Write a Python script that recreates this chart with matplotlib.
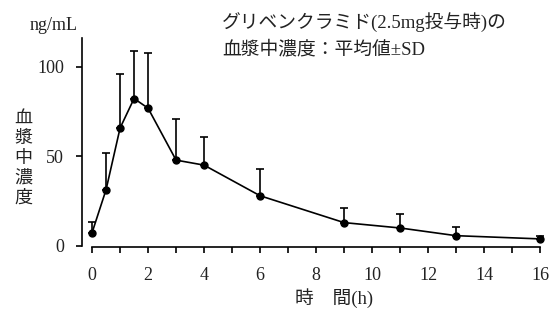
import matplotlib.pyplot as plt
import numpy as np

plt.rcParams['font.family'] = ['Liberation Serif', 'Noto Sans CJK JP']

# 時間(h) / 平均値 / SD
hours = [0, 0.5, 1, 1.5, 2, 3, 4, 6, 9, 11, 13, 16]
conc = [7.3, 31.3, 65.7, 82.2, 76.8, 47.8, 45.0, 27.9, 12.9, 9.9, 5.6, 3.8]
sd = [5.7, 20.5, 30.2, 26.8, 31.1, 23.0, 15.8, 15.0, 7.9, 7.7, 4.7, 1.8]

yticks = [0, 50, 100]
xticks = [0, 2, 4, 6, 8, 10, 12, 14, 16]

fig = plt.figure(figsize=(5.57, 3.11), dpi=100)
ax = fig.add_axes([82/557, (311-245.7)/311, (540-82)/557, (245.7-38)/311])

ax.errorbar(hours, conc, yerr=[np.zeros(len(sd)), sd], color='black',
            lw=1.2, marker='o', ms=5, capsize=3.2, elinewidth=1.2,
            capthick=1.2, clip_on=False, zorder=3)

ax.set_xlim(-0.36, 16)
ax.set_ylim(0, 116)
for s in ['top', 'right']:
    ax.spines[s].set_visible(False)
ax.spines['bottom'].set_bounds(0, 16)
ax.spines['bottom'].set_position(('outward', 1))
ax.spines['left'].set_bounds(0, 116)
for s in ['left', 'bottom']:
    ax.spines[s].set_linewidth(1.2)

ax.set_xticks(xticks)
ax.set_xticks(np.arange(0, 17, 1), minor=True)
ax.set_yticks(yticks)
ax.tick_params(direction='out', length=4, width=1.2, labelsize=13,
               labelcolor='#222222')
ax.tick_params(axis='x', pad=10)
ax.tick_params(axis='x', which='minor', length=4, width=1.2)
ax.tick_params(axis='y', pad=9)

fig.text(30/557, 1 - 25/311, 'ng/mL', fontsize=13, va='center', ha='left',
         color='#222222')
fig.text(23/557, 1 - 158/311, '血\n漿\n中\n濃\n度', fontsize=13,
         va='center', ha='center', linespacing=1.22, color='#222222')
fig.text(334/557, 1 - 298/311, '時　間(h)', fontsize=13.5,
         va='center', ha='center', color='#222222')
fig.text(222/557, 1 - 22/311, 'グリベンクラミド(2.5mg投与時)の',
         fontsize=13.5, va='center', ha='left', color='#222222')
fig.text(222/557, 1 - 49/311, '血漿中濃度：平均値±SD',
         fontsize=13.5, va='center', ha='left', color='#222222')

fig.savefig('out.png', dpi=100)
